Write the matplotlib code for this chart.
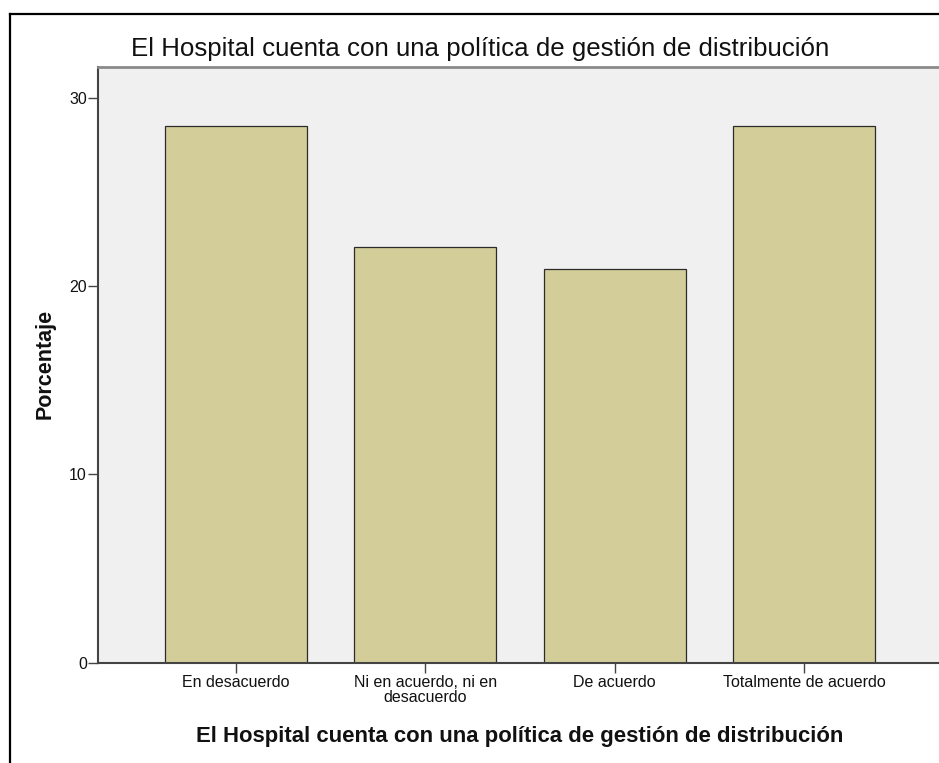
import matplotlib
matplotlib.use("Agg")
import matplotlib.pyplot as plt
from matplotlib.lines import Line2D

# data
categories = ["En desacuerdo", "Ni en acuerdo, ni en\ndesacuerdo", "De acuerdo", "Totalmente de acuerdo"]
percentages = [28.5, 22.1, 20.9, 28.5]
y_ticks = [0, 10, 20, 30]
chart_title = "El Hospital cuenta con una política de gestión de distribución"
x_title = "El Hospital cuenta con una política de gestión de distribución"
y_title = "Porcentaje"

plt.rcParams["font.family"] = ["Liberation Sans", "DejaVu Sans"]

fig = plt.figure(figsize=(9.39, 7.63), dpi=100)
fig.patch.set_facecolor("white")

# outer frame of the output box: only the left and top edges are inside the picture
fx = 10 / 939
fy = 1 - 14 / 763
fig.lines.append(Line2D([fx, fx], [-0.1, fy], transform=fig.transFigure, color="black", linewidth=1.6))
fig.lines.append(Line2D([fx, 1.1], [fy, fy], transform=fig.transFigure, color="black", linewidth=1.6))

# plot area runs past the right edge of the picture (cropped in the reference)
right_px = 1000
ax = fig.add_axes([98 / 939, (763 - 662.7) / 763, (right_px - 98) / 939, (662.7 - 67.3) / 763])
ax.set_facecolor("#F0F0F0")

positions = list(range(len(categories)))
ax.bar(positions, percentages, width=0.75, color="#D3CE99", edgecolor="#2b2b2b", linewidth=0.9, zorder=2)

step = 189.5
ax.set_xlim(-(235.7 - 98) / step, 3 + (right_px - 804.2) / step)
ax.set_ylim(0, 31.62)
ax.set_yticks(y_ticks)
ax.set_xticks(positions)
ax.set_xticklabels(categories)
for lbl in ax.get_xticklabels():
    lbl.set_linespacing(0.95)

ax.tick_params(axis="both", direction="out", length=7, width=1, color="#444444", labelsize=11.5, labelcolor="#111111")
ax.tick_params(axis="y", pad=1)
ax.tick_params(axis="x", pad=2)

ax.spines["left"].set_color("#444444")
ax.spines["left"].set_linewidth(1.5)
ax.spines["bottom"].set_color("#444444")
ax.spines["bottom"].set_linewidth(1.5)
ax.spines["top"].set_color("#8a8a8a")
ax.spines["top"].set_linewidth(2)
ax.spines["right"].set_visible(False)

# title and axis titles placed in pixel-derived axes fractions
axw = right_px - 98
ax.set_title(chart_title, x=(480 - 98) / axw, y=1.019, pad=0, fontsize=18.6, color="#111111")
ax.set_xlabel(x_title, fontsize=15.9, fontweight="bold", va="baseline", color="#111111")
ax.xaxis.set_label_coords((520 - 98) / axw, -0.1332)
ax.set_ylabel(y_title, fontsize=15.5, fontweight="bold", va="center", color="#111111")
ax.yaxis.set_label_coords((45 - 98) / axw, 0.5017)

fig.savefig("out.png", dpi=100)
